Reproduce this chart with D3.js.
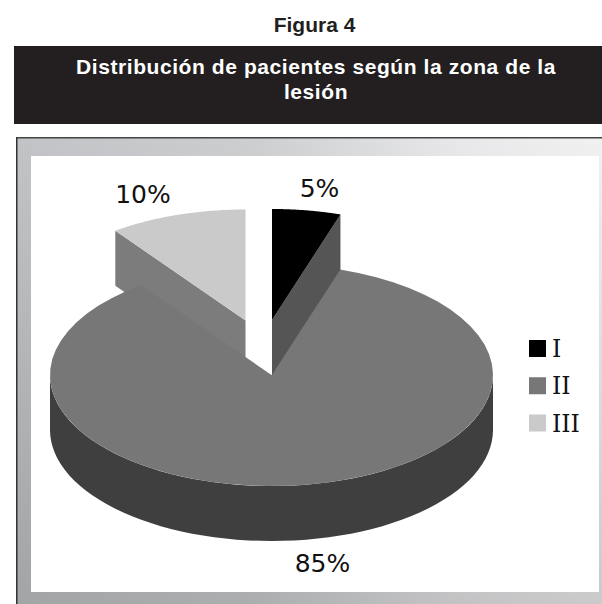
<!DOCTYPE html>
<html><head><meta charset="utf-8">
<script src="https://cdn.jsdelivr.net/npm/d3@7"></script>
<style>html,body{margin:0;padding:0;background:#fff;overflow:hidden}svg{display:block}</style>
</head><body><div id="c"></div>
<script>
const figureLabel = "Figura 4";
const titleLines = ["Distribución de pacientes según la zona de la", "lesión"];
const categories = ["I", "II", "III"];
const values = [5, 85, 10];
const valueLabels = ["5%", "85%", "10%"];
const topColors = ["#000000", "#777777", "#cacaca"];
const wallColors = ["#555555", "#3f3f3f", "#7c7c7c"];

const W = 602, H = 604, rx = 221.5, ry = 111, depth = 55;
const svg = d3.select("#c").append("svg").attr("width", W).attr("height", H);
const defs = svg.append("defs");
const g = defs.append("linearGradient").attr("id","fr").attr("x1","0").attr("y1","0").attr("x2","1").attr("y2","0");
[[0,"#c2c3c6"],[.4,"#ccced0"],[.75,"#e8e8ea"],[1,"#f1f1f2"]].forEach(s=>g.append("stop").attr("offset",s[0]).attr("stop-color",s[1]));
const v = defs.append("linearGradient").attr("id","sh").attr("x1","0").attr("y1","0").attr("x2","0").attr("y2","1");
[[0,0],[1,.16]].forEach(s=>v.append("stop").attr("offset",s[0]).attr("stop-color","#000").attr("stop-opacity",s[1]));

svg.append("text").attr("x",314.5).attr("y",32).attr("text-anchor","middle")
  .attr("font-family","Liberation Sans").attr("font-weight","bold").attr("font-size",21).attr("fill","#231f20").text(figureLabel);
svg.append("rect").attr("x",14).attr("y",46).attr("width",588).attr("height",78).attr("fill","#231f20");
svg.selectAll("text.t").data(titleLines).join("text").attr("class","t").attr("x",316).attr("y",(d,i)=>74+i*25)
  .attr("text-anchor","middle").attr("font-family","Liberation Sans").attr("font-weight","bold").attr("font-size",21)
  .attr("letter-spacing",0.58).attr("fill","#fff").text(d=>d);

svg.append("rect").attr("x",17).attr("y",138).attr("width",585).attr("height",466).attr("fill","url(#fr)");
svg.append("rect").attr("x",17).attr("y",138).attr("width",585).attr("height",466).attr("fill","url(#sh)");
svg.append("rect").attr("x",16).attr("y",137).attr("width",586).attr("height",1.5).attr("fill","#444");
svg.append("rect").attr("x",16).attr("y",137).attr("width",1.5).attr("height",467).attr("fill","#333");
svg.append("rect").attr("x",31).attr("y",156).attr("width",568).attr("height",436).attr("fill","#fff");

// pie layout: slice I from 0°, clockwise; order I, II, III
const pie = d3.pie().value(d=>d).sort(null)(values);
const xS = d3.scaleLinear().domain([-1,1]).range([-rx,rx]);
const yS = d3.scaleLinear().domain([-1,1]).range([-ry,ry]);
const px = (a)=>xS(Math.sin(a)), py = (a)=>yS(-Math.cos(a));
const centers = [[272,320],[271.5,375],[245.5,320.5]];
const line = d3.line();
const arcPts = (a0,a1,dy)=>d3.range(0,61).map(i=>{const a=a0+(a1-a0)*i/60;return [px(a),py(a)+dy];});
const chart = svg.append("g");
const sliceG = i=>chart.append("g").attr("transform",`translate(${centers[i][0]},${centers[i][1]})`);
const topPath = (p)=>line([[0,0],...arcPts(p.startAngle,p.endAngle,0)])+"Z";

// III: wall along the start-edge radius, then top
const g3 = sliceG(2), p3 = pie[2];
g3.append("path").attr("fill",wallColors[2]).attr("d",line([[0,0],[px(p3.startAngle),py(p3.startAngle)],[px(p3.startAngle),py(p3.startAngle)+depth],[0,depth]])+"Z");
g3.append("path").attr("fill",topColors[2]).attr("d",topPath(p3));

// II: outer wall on the visible front half, then top
const g2 = sliceG(1), p2 = pie[1];
const front = arcPts(Math.PI/2, 3*Math.PI/2, 0);
g2.append("path").attr("fill",wallColors[1]).attr("d",line([...front, ...front.map(d=>[d[0],d[1]+depth]).reverse()])+"Z");
g2.append("path").attr("fill",topColors[1]).attr("d",topPath(p2));

// I: wall along the end-edge radius, then top
const g1 = sliceG(0), p1 = pie[0];
g1.append("path").attr("fill",wallColors[0]).attr("d",line([[0,0],[px(p1.endAngle),py(p1.endAngle)],[px(p1.endAngle),py(p1.endAngle)+depth],[0,depth]])+"Z");
g1.append("path").attr("fill",topColors[0]).attr("d",topPath(p1));

// value labels
const labelPos = [[319.5,197],[322.5,572],[143,203]];
svg.selectAll("text.v").data(valueLabels).join("text").attr("class","v")
  .attr("x",(d,i)=>labelPos[i][0]).attr("y",(d,i)=>labelPos[i][1]).attr("text-anchor","middle")
  .attr("font-family","DejaVu Sans").attr("font-size",25).attr("fill","#111").text(d=>d);

// legend
const ly = d3.scalePoint().domain(categories).range([348.5,423]);
const leg = svg.selectAll("g.l").data(categories).join("g").attr("class","l").attr("transform",d=>`translate(529,${ly(d)})`);
leg.append("rect").attr("y",-8.5).attr("width",17).attr("height",17).attr("fill",(d,i)=>topColors[i]);
leg.append("text").attr("x",23).attr("y",8.5).attr("font-family","DejaVu Serif").attr("font-size",23.5).attr("fill","#111").text(d=>d);
</script></body></html>
